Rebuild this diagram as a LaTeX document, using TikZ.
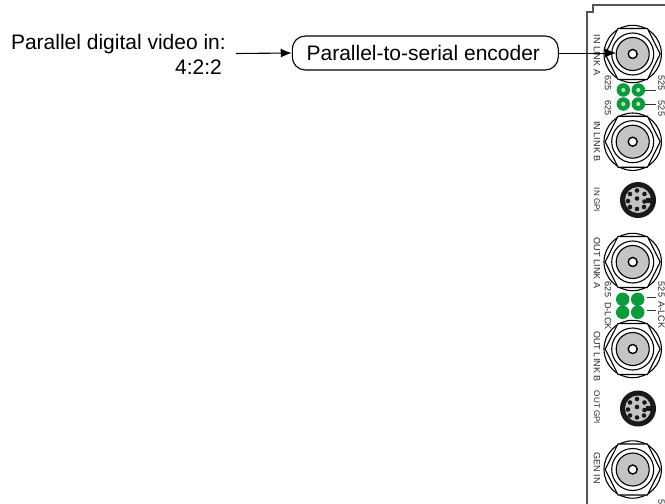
\documentclass[tikz,border=0pt]{standalone}
\usepackage{fontspec}
\setmainfont{Liberation Sans}
\definecolor{ledgreen}{HTML}{0B9A3C}
\definecolor{ledlight}{HTML}{B5E3C0}
\definecolor{bncgray}{HTML}{C4C4C4}
\definecolor{panelgray}{HTML}{555555}
\usetikzlibrary{arrows.meta}
\tikzset{
  mainlabel/.style={font=\fontsize{21}{25}\selectfont,inner sep=0pt},
  tinylabel/.style={font=\fontsize{9.1}{10}\selectfont,rotate=-90,inner sep=0pt,text=black!85},
  gpilabel/.style={tinylabel,font=\fontsize{8.1}{10}\selectfont},
  encoderbox/.style={draw,line width=1.1pt,rounded corners=13pt,minimum width=266pt,minimum height=34pt,inner sep=0pt,font=\fontsize{21}{25}\selectfont},
  flow/.style={line width=1.1pt,-{Latex[length=11pt,width=9pt]}},
  plainflow/.style={line width=0.9pt,-{Latex[length=11pt,width=9pt]}},
  ledtick/.style={line width=0.9pt,black!80},
  ledbody/.style={circle,fill=ledgreen,minimum size=13.5pt,inner sep=0pt},
  panelline/.style={panelgray,line width=1.8pt},
}
\newcommand{\bnc}[3]{%
  \begin{scope}[shift={(#1,#2)}]
    \node[circle,inner sep=0pt,minimum size=1pt] (#3) at (0,0) {};
    \draw[line width=1.1pt] (0,0) circle (28.7);
    \draw[line width=1.1pt,fill=white] (-27.5,0)--(-14.7,25.5)--(14.7,25.5)--(27.5,0)--(14.7,-25.5)--(-14.7,-25.5)--cycle;
    \draw[line width=1.1pt] (0,0) circle (21);
    \draw[line width=1.1pt,fill=bncgray] (0,0) circle (16.5);
    \draw[line width=1.4pt,fill=white] (0,0) circle (4.5);
  \end{scope}}
\newcommand{\gpi}[3]{%
  \begin{scope}[shift={(#1,#2)}]
    \node[circle,inner sep=0pt,minimum size=1pt] (#3) at (0,0) {};
    \fill[black!90] (0,0) circle (18);
    \fill[bncgray] (0,0) circle (13);
    \fill[black!90] (8,-2.5) rectangle (14,2.5);
    \foreach \a/\b in {-1/-9.5,-8/-6,6.5/-6,-10/1,-1/-1.5,6.5/1.5,-8/7,-1/9,6/7}{\fill[black!90] (\a,\b) circle (2.3);}
  \end{scope}}
\begin{document}
\begin{tikzpicture}[x=1pt,y=-1pt]
\useasboundingbox (0,0) rectangle (665,504);
\begin{scope}
\clip (0,0) rectangle (665,504);
\draw[panelline] (665,5)--(593,5)--(593,12)--(587,12)--(587,504);

\bnc{632.7}{54}{bncA}
\bnc{632.7}{141.7}{bncB}
\gpi{638}{200}{gpiA}
\bnc{632.7}{262}{bncC}
\bnc{632.7}{349}{bncD}
\gpi{638}{408.5}{gpiB}
\bnc{632.7}{469.5}{bncE}

% LEDs
\node[ledbody] (l1) at (623.3,90) {}; \fill[ledlight] (l1) circle (2.1);
\node[ledbody] (l2) at (638.3,90) {}; \fill[ledlight] (l2) circle (2.1);
\node[ledbody] (l3) at (623.3,104) {}; \fill[ledlight] (l3) circle (2.1);
\node[ledbody] (l4) at (638.3,104) {}; \fill[ledlight] (l4) circle (2.1);
\node[ledbody] (l5) at (622.7,299.3) {};
\node[ledbody] (l6) at (637.7,299.3) {};
\node[ledbody] (l7) at (622.7,312.3) {};
\node[ledbody] (l8) at (637.7,312.3) {};
\coordinate (t1) at (656,90); \coordinate (t2) at (656,104);
\coordinate (t3) at (656,297); \coordinate (t4) at (656,310);
\coordinate (s3) at (647,297); \coordinate (s4) at (647,310);
\draw[ledtick] (l2.east)--(t1);
\draw[ledtick] (l4.east)--(t2);
\draw[ledtick] (s3)--(t3);
\draw[ledtick] (s4)--(t4);

% panel labels
\node[tinylabel] (n1) at (597,55) {IN LINK A};
\node[tinylabel] (n2) at (608,83) {625};
\node[tinylabel] (n3) at (608,108) {625};
\node[tinylabel] (n4) at (661.5,83) {525};
\node[tinylabel] (n5) at (661.5,108.5) {525};
\node[tinylabel] (n6) at (597,141.5) {IN LINK B};
\node[gpilabel] (n7) at (597,200) {IN GPI};
\node[tinylabel] (n8) at (597,263) {OUT LINK A};
\node[tinylabel] (n9) at (608,289.5) {625};
\node[tinylabel] (n10) at (608,316) {D-LCK};
\node[tinylabel] (n11) at (661.5,289.5) {525};
\node[tinylabel] (n12) at (661.5,315) {A-LCK};
\node[tinylabel] (n13) at (597,356.5) {OUT LINK B};
\node[gpilabel] (n14) at (597,407.5) {OUT GPI};
\node[tinylabel] (n15) at (597,468) {GEN IN};
\node[tinylabel] (n16) at (661.5,507) {525};
\end{scope}

% main flow
\node[mainlabel,anchor=base east] (lab1) at (226,49) {Parallel digital video in:};
\node[mainlabel,anchor=base east] (lab2) at (222,74) {4:2:2};
\node[encoderbox] (enc) at (425.3,53) {\hspace*{-4pt}Parallel-to-serial encoder};
\coordinate (arrowstart) at (236,53.5);
\draw[flow] (arrowstart)--(enc.west);
\coordinate (bnctip) at (616,53);
\draw[plainflow] (enc.east)--(bnctip);
\end{tikzpicture}
\end{document}
